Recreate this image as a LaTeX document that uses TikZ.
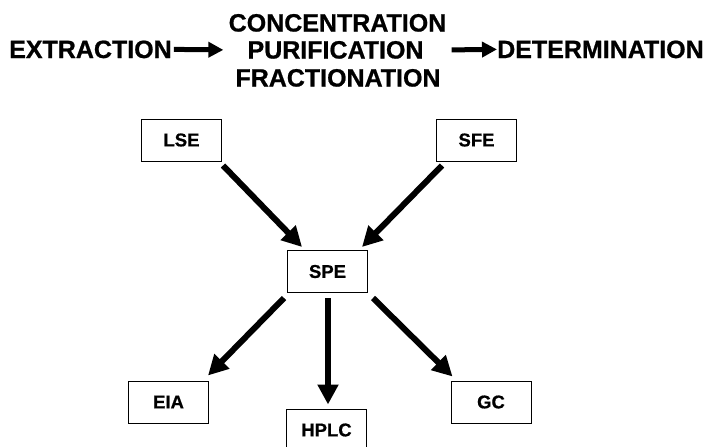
\documentclass[tikz,border=0pt]{standalone}
\usepackage{fontspec}
\setmainfont{Liberation Sans}[BoldFeatures={FakeBold=0.8}]
\usetikzlibrary{arrows.meta,calc}
\begin{document}
\begin{tikzpicture}[x=1pt,y=-1pt,
  box/.style={draw=black,line width=1pt,minimum width=80pt,minimum height=42pt,inner sep=0pt,font=\fontsize{18.5}{20}\selectfont\bfseries},
  big/.style={inner sep=0pt,font=\fontsize{25}{28}\selectfont\bfseries},
  flow/.style={line width=5pt,-{Triangle[length=15pt,width=15pt]}},
  bigarrow/.style={line width=6pt,-{Triangle[length=20pt,width=20pt]}}]
\useasboundingbox (0,0) rectangle (710,447);

% top row
\node[big,anchor=base west] (extr) at (9,58) {EXTRACTION};
\node[big,anchor=base] (conc) at (337.5,31.5) {CONCENTRATION};
\node[big,anchor=base] (puri) at (335.5,58.5) {PURIFICATION};
\node[big,anchor=base] (frac) at (338,86.5) {FRACTIONATION};
\node[big,anchor=base west] (det) at (497,58) {DETERMINATION};

\draw[flow] ([xshift=2]extr.east) -- ([xshift=-24]puri.west);
\draw[flow] ([xshift=28]puri.east) -- (det.west);

% boxes
\node[box] (lse) at (181.5,140) {LSE};
\node[box] (sfe) at (476.5,140) {SFE};
\node[box] (spe) at (327.5,271.5) {SPE};
\node[box] (eia) at (168.5,402) {EIA};
\node[box] (hplc) at (326.5,430) {HPLC};
\node[box] (gc) at (491,402) {GC};

% connectors
\draw[bigarrow] ([shift={(1,4)}]lse.south east) -- ([shift={(15,-3)}]spe.north west);
\draw[bigarrow] ([shift={(6,4)}]sfe.south west) -- ([shift={(-6,-3)}]spe.north east);
\draw[bigarrow] ([shift={(-3,5)}]spe.south west) -- ([shift={(-1,-5)}]eia.north east);
\draw[bigarrow] ([shift={(0.5,5)}]spe.south) -- ([shift={(1.5,-4)}]hplc.north);
\draw[bigarrow] ([shift={(5,5)}]spe.south east) -- ([shift={(2,-4)}]gc.north west);
\end{tikzpicture}
\end{document}
